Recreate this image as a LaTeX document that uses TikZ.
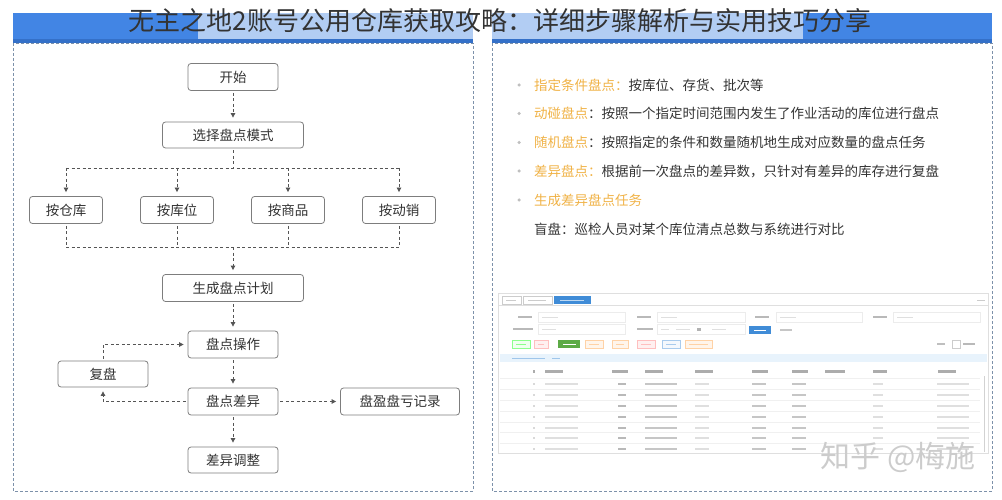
\documentclass[tikz,border=0pt]{standalone}
\usepackage{fontspec}
\setmainfont{Noto Sans CJK SC}
\usepackage{xcolor}
\usetikzlibrary{arrows.meta}

\definecolor{hdrblue}{RGB}{66,133,228}
\definecolor{hdrlight}{RGB}{178,205,243}
\definecolor{hdrline}{RGB}{52,112,200}
\definecolor{frameblue}{RGB}{125,145,170}
\definecolor{flowgray}{RGB}{85,85,85}
\definecolor{boxgray}{RGB}{125,125,125}
\definecolor{txtgray}{RGB}{51,51,51}
\definecolor{hlorange}{RGB}{240,178,70}
\definecolor{uiblue}{RGB}{64,140,215}
\definecolor{uigreen}{RGB}{92,170,70}
\definecolor{uibar}{RGB}{232,243,252}

\begin{document}
\begin{tikzpicture}[x=1pt, y=-1pt,
        box/.style={draw=boxgray, line width=0.8pt, rounded corners=3pt, fill=white,
            minimum height=27pt, inner sep=0pt, text=txtgray,
            font=\fontsize{13.5}{16}\selectfont},
        link/.style={draw=flowgray, line width=0.8pt, dash pattern=on 3pt off 2.5pt,
            shorten <=2pt},
        flow/.style={link, -{Triangle[length=4.5pt, width=4.5pt]}, shorten >=4pt},
        item/.style={anchor=west, inner sep=0pt, text=txtgray,
            font=\fontsize{13.5}{16}\selectfont},
        dot/.style={circle, fill=gray!50, inner sep=0pt, minimum size=3.5pt}]
        \useasboundingbox (0,0) rectangle (1002,500);

        % panels and header bars
        \draw[frameblue, line width=0.7pt, dash pattern=on 3pt off 2pt] (13,43) rectangle (473,491);
        \draw[frameblue, line width=0.7pt, dash pattern=on 3pt off 2pt] (492,43) rectangle (992,491);
        \fill[hdrblue] (13,13) rectangle (473,43);
        \fill[hdrblue] (492,13) rectangle (992,43);
        \fill[hdrlight] (198,13) rectangle (473,39.5);
        \fill[hdrlight] (492,13) rectangle (803,39.5);
        \fill[hdrline] (13,39.5) rectangle (473,43);
        \fill[hdrline] (492,39.5) rectangle (992,43);
        \node[inner sep=0pt, text=black!80, font=\fontsize{26}{26}\selectfont] (title) at (500,21)
            {无主之地2账号公用仓库获取攻略：详细步骤解析与实用技巧分享};

        % flow chart
        \node[box, minimum width=90pt] (start) at (233,77) {开始};
        \node[box, minimum width=141pt, minimum height=26pt] (mode) at (233,135) {选择盘点模式};
        \node[box, minimum width=73pt] (bywh) at (66,210) {按仓库};
        \node[box, minimum width=73pt] (byloc) at (177,210) {按库位};
        \node[box, minimum width=73pt] (bysku) at (288,210) {按商品};
        \node[box, minimum width=73pt] (bymove) at (399,210) {按动销};
        \node[box, minimum width=141pt] (plan) at (233,288) {生成盘点计划};
        \node[box, minimum width=90pt] (op) at (233,344.5) {盘点操作};
        \node[box, minimum width=90pt, minimum height=26pt] (recheck) at (103,374) {复盘};
        \node[box, minimum width=90pt] (diff) at (233,401.5) {盘点差异};
        \node[box, minimum width=119pt] (record) at (400,401.5) {盘盈盘亏记录};
        \node[box, minimum width=90pt, minimum height=26pt] (adjust) at (233,460) {差异调整};
        \coordinate (split) at (233,168);
        \coordinate (merge) at (233,247);

        \draw[flow] (start) -- (mode);
        \draw[link] (mode) -- (split);
        \draw[link, shorten <=0pt] (bywh |- split) -- (bymove |- split);
        \foreach \n in {bywh, byloc, bysku, bymove}
            \draw[flow, shorten <=0pt] (\n |- split) -- (\n);
        \foreach \n in {bywh, byloc, bysku, bymove}
            \draw[link] (\n) -- (\n |- merge);
        \draw[link, shorten <=0pt] (bywh |- merge) -- (bymove |- merge);
        \draw[flow, shorten <=0pt] (merge) -- (plan);
        \draw[flow] (plan) -- (op);
        \draw[flow] (op) -- (diff);
        \draw[flow] (diff) -- (record);
        \draw[flow] (diff) -- (adjust);
        \draw[flow] (diff) -| (recheck);
        \draw[flow] (recheck) |- (op);

        % stocktake types
        \node[dot] (d1) at (519,85) {};
        \node[dot] (d2) at (519,113.5) {};
        \node[dot] (d3) at (519,142.5) {};
        \node[dot] (d4) at (519,171) {};
        \node[dot] (d5) at (519,200) {};
        \node[item] (t1) at (534,85) {\textcolor{hlorange}{指定条件盘点：}按库位、存货、批次等};
        \node[item] (t2) at (534,113.5) {\textcolor{hlorange}{动碰盘点}：按照一个指定时间范围内发生了作业活动的库位进行盘点};
        \node[item] (t3) at (534,142.5) {\textcolor{hlorange}{随机盘点}：按照指定的条件和数量随机地生成对应数量的盘点任务};
        \node[item] (t4) at (534,171) {\textcolor{hlorange}{差异盘点：}根据前一次盘点的差异数，只针对有差异的库存进行复盘};
        \node[item] (t5) at (534,200) {\textcolor{hlorange}{生成差异盘点任务}};
        \node[item] (t6) at (534,229) {盲盘：巡检人员对某个库位清点总数与系统进行对比};

        % screenshot of the list page
        \draw[gray!25, fill=white] (498,293) rectangle (988,453);
        \draw[gray!25] (498,305) -- (988,305);
        \draw[gray!40] (502,296) rectangle (521,304);
        \draw[gray!40] (523,296) rectangle (552,304);
        \fill[uiblue] (554,296) rectangle (591,304);
        \fill[uiblue!35] (560,299.5) rectangle (584,301);
        \fill[gray!40] (506,299.5) rectangle (516,301);
        \fill[gray!40] (528,299.5) rectangle (546,301);
        \fill[gray!40] (977,299.5) rectangle (985,301);
        \foreach \x in {518, 637, 755, 873}
            \fill[gray!55] (\x,316) rectangle ++(14,2);
        \foreach \x/\e in {538/625, 657/745, 776/862, 893/980} {
            \draw[gray!15] (\x,312) rectangle (\e,322);
            \fill[gray!25] (\x+4,316.5) rectangle ++(16,1.5);
        }
        \fill[gray!55] (513,328) rectangle ++(20,2);
        \draw[gray!15] (538,324) rectangle (625,334);
        \fill[gray!25] (542,328.5) rectangle ++(14,1.5);
        \fill[gray!55] (637,328) rectangle ++(16,2);
        \draw[gray!15] (657,324) rectangle (745,334);
        \fill[gray!25] (661,328.5) rectangle ++(8,1.5);
        \fill[gray!25] (676,328.5) rectangle ++(14,1.5);
        \fill[gray!60] (697,328) rectangle ++(4,2.5);
        \fill[gray!25] (712,328.5) rectangle ++(14,1.5);
        \fill[uiblue] (749,326) rectangle (771,334);
        \fill[white] (754,329.5) rectangle ++(12,1.5);
        \fill[gray!45] (780,329) rectangle ++(12,1.5);
        \foreach \a/\b/\d/\f in {512/530/green!45/green!6, 534/548/red!25/red!6,
                585/603/orange!35/orange!8, 612/628/orange!35/orange!8,
                637/655/red!25/red!6, 662/680/uiblue!45/uiblue!6,
                685/712/orange!35/orange!8} {
            \draw[\d, fill=\f] (\a,340) rectangle (\b,348);
            \fill[\d] (\a+4,343.5) rectangle (\b-4,345);
        }
        \fill[uigreen] (558,340) rectangle (580,348);
        \fill[white] (563,343.5) rectangle (576,345);
        \fill[gray!50] (937,343) rectangle ++(8,2);
        \draw[gray!40] (952,340) rectangle (960,348);
        \fill[gray!55] (963,343) rectangle ++(12,2);
        \fill[uibar] (500,354) rectangle (987,362);
        \fill[uiblue!50] (512,357.5) rectangle ++(33,1.5);
        \fill[uiblue!50] (552,357.5) rectangle ++(8,1.5);
        \foreach \x/\w in {533/2, 545/18, 612/16, 645/18, 695/18, 752/16, 792/16, 825/20, 873/14, 938/18}
            \fill[gray!65] (\x,370) rectangle ++(\w,2.5);
        \foreach \y in {384, 395, 406, 417, 428, 438, 449} {
            \draw[gray!12] (500,\y-5.5) -- (980,\y-5.5);
            \foreach \x/\w/\c in {533/2/gray!30, 545/33/gray!25, 618/8/gray!55, 645/32/gray!45,
                    695/14/gray!25, 752/14/gray!45, 792/14/gray!45, 873/10/gray!25, 937/32/gray!25}
                \fill[\c] (\x,\y-0.8) rectangle ++(\w,1.8);
        }
        \draw[gray!35, line width=1pt] (984,376) -- (984,452);
        \node[inner sep=0pt, text=gray!40, font=\fontsize{30}{30}\selectfont] (mark) at (898,457) {知乎 @梅施};
\end{tikzpicture}
\end{document}
